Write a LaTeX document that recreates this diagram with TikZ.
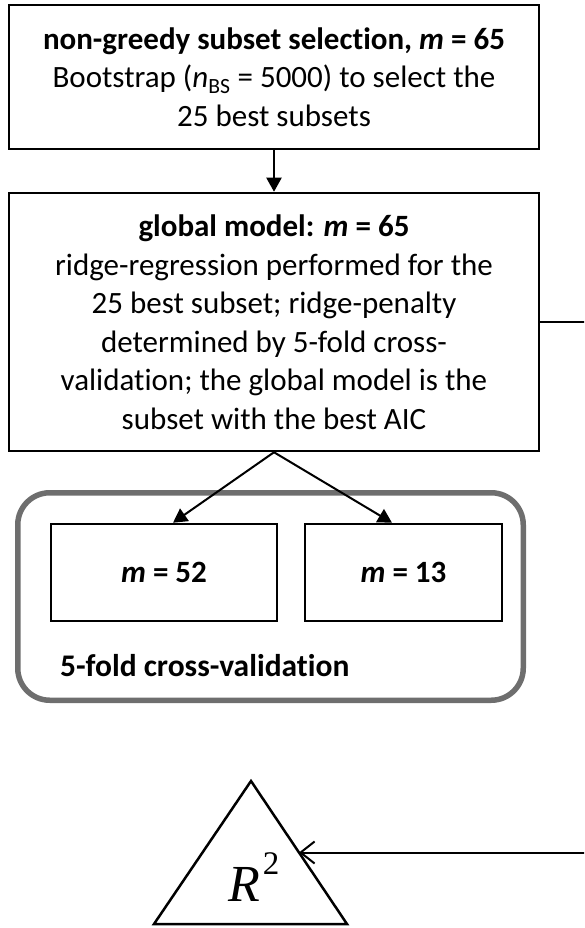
\documentclass[tikz,border=0pt]{standalone}
\usepackage{fontspec}
\setmainfont{Carlito}[Ligatures=CommonOff]
\newfontfamily\serifmath{Liberation Serif}
\usetikzlibrary{arrows.meta,calc}
\definecolor{groupgray}{HTML}{6E6E6E}

\begin{document}
\begin{tikzpicture}[x=1pt,y=-1pt,
  box/.style={draw, line width=2.5pt, inner sep=0pt, align=center,
    font=\fontsize{31}{38.5}\selectfont},
  fillarrow/.style={line width=2pt, -{Triangle[length=14pt,width=15pt]}},
  barbarrow/.style={line width=2pt, -{Straight Barb[length=14pt,width=22pt,line width=2pt]}},
  group/.style={draw=groupgray, line width=5.5pt, rounded corners=32pt, inner sep=0pt},
]
\path[use as bounding box, clip] (0,0) rectangle (584,928);

% selection step
\node[box, minimum width=530pt, minimum height=144pt] (sel) at (274,77)
  {\textbf{non-greedy subset selection, \textit{m} = 65}\\
   Bootstrap (\textit{n}\textsubscript{BS} = 5000) to select the\\
   25 best subsets};

% global model
\node[box, minimum width=530pt, minimum height=258pt] (glob) at (274,322)
  {\textbf{global model: \textit{m} = 65}\\
   ridge-regression performed for the\\
   25 best subset; ridge-penalty\\
   determined by 5-fold cross-\\
   validation; the global model is the\\
   subset with the best AIC};

% cross-validation group
\node[group, minimum width=505.5pt, minimum height=207.5pt] (cv) at (270.5,596.5) {};
\node[box, minimum width=226pt, minimum height=97pt] (train) at (164,572.5)
  {\textbf{\textit{m} = 52}};
\node[box, minimum width=197pt, minimum height=97pt] (test) at (403.5,572.5)
  {\textbf{\textit{m} = 13}};
\node[anchor=base west, inner sep=0pt, font=\fontsize{31.5}{36}\selectfont\bfseries]
  (cvlabel) at (60,676) {5-fold cross-validation};

% R^2 triangle
\coordinate (triTop) at (251,781);
\coordinate (triL) at (154,924);
\coordinate (triR) at (347,924);
\draw[line width=2.5pt, line join=miter] (triTop) -- (triR) -- (triL) -- cycle;
\coordinate (triHit) at ($(triTop)!0.5!(triR)$);
\node[anchor=base west, inner sep=0pt] (rsq) at (228,901)
  {\serifmath{\fontsize{52}{52}\selectfont\itshape R}\hspace{3pt}\raisebox{27pt}{\serifmath\fontsize{33}{33}\selectfont 2}};

% connectors
\coordinate (rail) at (588,0);
\draw[fillarrow] (sel.south) -- (glob.north);
\draw[fillarrow] (glob.south) -- ([xshift=9pt]train.north);
\draw[fillarrow] (glob.south) -- ([xshift=-11.5pt]test.north);
\draw[barbarrow] (glob.east) -- (glob.east -| rail) -- (rail |- triHit) -- (triHit);
\end{tikzpicture}
\end{document}
